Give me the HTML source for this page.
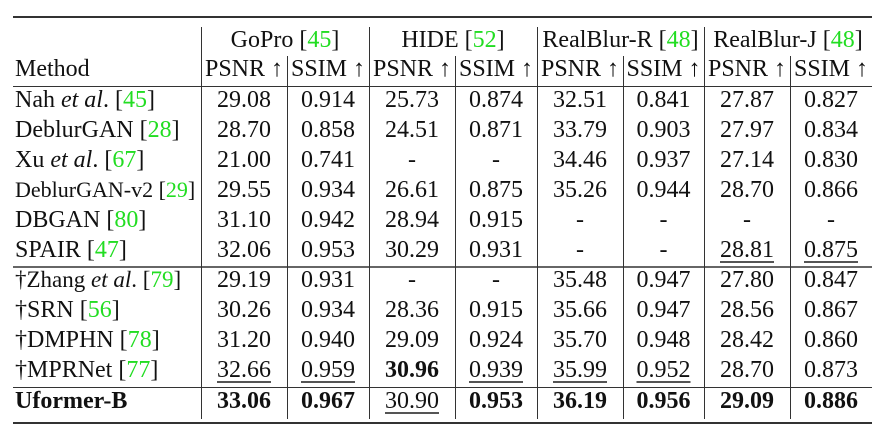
<!DOCTYPE html>
<html><head><meta charset="utf-8"><style>
html,body{margin:0;padding:0;background:#fff;}
#c{position:relative;width:890px;height:434px;overflow:hidden;font-family:"Liberation Serif","DejaVu Serif",serif;font-size:24px;color:#111;}
.h{position:absolute;background:#333;}
.v{position:absolute;background:#333;width:1px;}
.t{position:absolute;height:30px;line-height:30px;text-align:center;white-space:nowrap;}
.m{text-align:left;}
.g{color:#22dd22;}
.u{text-decoration:underline;text-underline-offset:4px;text-decoration-thickness:1.5px;text-decoration-color:#555;}
b{font-weight:bold;}
</style></head><body><div id="c">
<div class="h" style="left:13px;top:16px;width:859px;height:2px;"></div>
<div class="h" style="left:13px;top:86px;width:859px;height:1px;"></div>
<div class="h" style="left:13px;top:266px;width:859px;height:2px;background:#666;"></div>
<div class="h" style="left:13px;top:387px;width:859px;height:1px;"></div>
<div class="h" style="left:13px;top:422px;width:859px;height:2px;"></div>
<div class="v" style="left:201px;top:27px;height:392px;"></div>
<div class="v" style="left:369px;top:27px;height:392px;"></div>
<div class="v" style="left:537px;top:27px;height:392px;"></div>
<div class="v" style="left:704px;top:27px;height:392px;"></div>
<div class="v" style="left:287px;top:56px;height:363px;"></div>
<div class="v" style="left:455px;top:56px;height:363px;"></div>
<div class="v" style="left:623px;top:56px;height:363px;"></div>
<div class="v" style="left:790px;top:56px;height:363px;"></div>
</div>
<script>
var cols=[[201,287],[287,369],[369,455],[455,537],[537,623],[623,704],[704,790],[790,872]];
var c=document.getElementById('c');
function cell(x,w,y,html,cls,fs){var d=document.createElement('div');d.className='t '+(cls||'');d.style.left=x+'px';d.style.width=w+'px';d.style.top=(y-15)+'px';if(fs)d.style.fontSize=fs+'px';d.innerHTML=html;c.appendChild(d);}
var hdr=[['GoPro [<span class="g">45</span>]',201,369],['HIDE [<span class="g">52</span>]',369,537],['RealBlur-R [<span class="g">48</span>]',537,704],['RealBlur-J [<span class="g">48</span>]',704,872]];
hdr.forEach(function(h){cell(h[1],h[2]-h[1],40,h[0]);});
cell(15,180,69,'Method','m');
for(var i=0;i<8;i++)cell(cols[i][0],cols[i][1]-cols[i][0],69,(i%2?'SSIM ↑':'PSNR ↑'));
var rows=[
[100,'Nah <i>et al</i>. [<span class="g">45</span>]',['29.08','0.914','25.73','0.874','32.51','0.841','27.87','0.827']],
[130,'DeblurGAN [<span class="g">28</span>]',['28.70','0.858','24.51','0.871','33.79','0.903','27.97','0.834']],
[160,'Xu <i>et al</i>. [<span class="g">67</span>]',['21.00','0.741','-','-','34.46','0.937','27.14','0.830']],
[190,'<span style="font-size:22px">DeblurGAN-v2 [<span class="g">29</span>]</span>',['29.55','0.934','26.61','0.875','35.26','0.944','28.70','0.866']],
[220,'DBGAN [<span class="g">80</span>]',['31.10','0.942','28.94','0.915','-','-','-','-']],
[250,'SPAIR [<span class="g">47</span>]',['32.06','0.953','30.29','0.931','-','-','_28.81','_0.875']],
[280,'<span style="font-size:23px">†Zhang <i>et al</i>. [<span class="g">79</span>]</span>',['29.19','0.931','-','-','35.48','0.947','27.80','0.847']],
[310,'†SRN [<span class="g">56</span>]',['30.26','0.934','28.36','0.915','35.66','0.947','28.56','0.867']],
[340,'†DMPHN [<span class="g">78</span>]',['31.20','0.940','29.09','0.924','35.70','0.948','28.42','0.860']],
[370,'†MPRNet [<span class="g">77</span>]',['_32.66','_0.959','*30.96','_0.939','_35.99','_0.952','28.70','0.873']],
[401,'<b>Uformer-B</b>',['*33.06','*0.967','_30.90','*0.953','*36.19','*0.956','*29.09','*0.886']]
];
rows.forEach(function(r){cell(15,186,r[0],r[1],'m');r[2].forEach(function(v,i){var h=v;if(v[0]=='_')h='<span class="u">'+v.slice(1)+'</span>';else if(v[0]=='*')h='<b>'+v.slice(1)+'</b>';cell(cols[i][0],cols[i][1]-cols[i][0],r[0],h);});});
</script>
</body></html>
